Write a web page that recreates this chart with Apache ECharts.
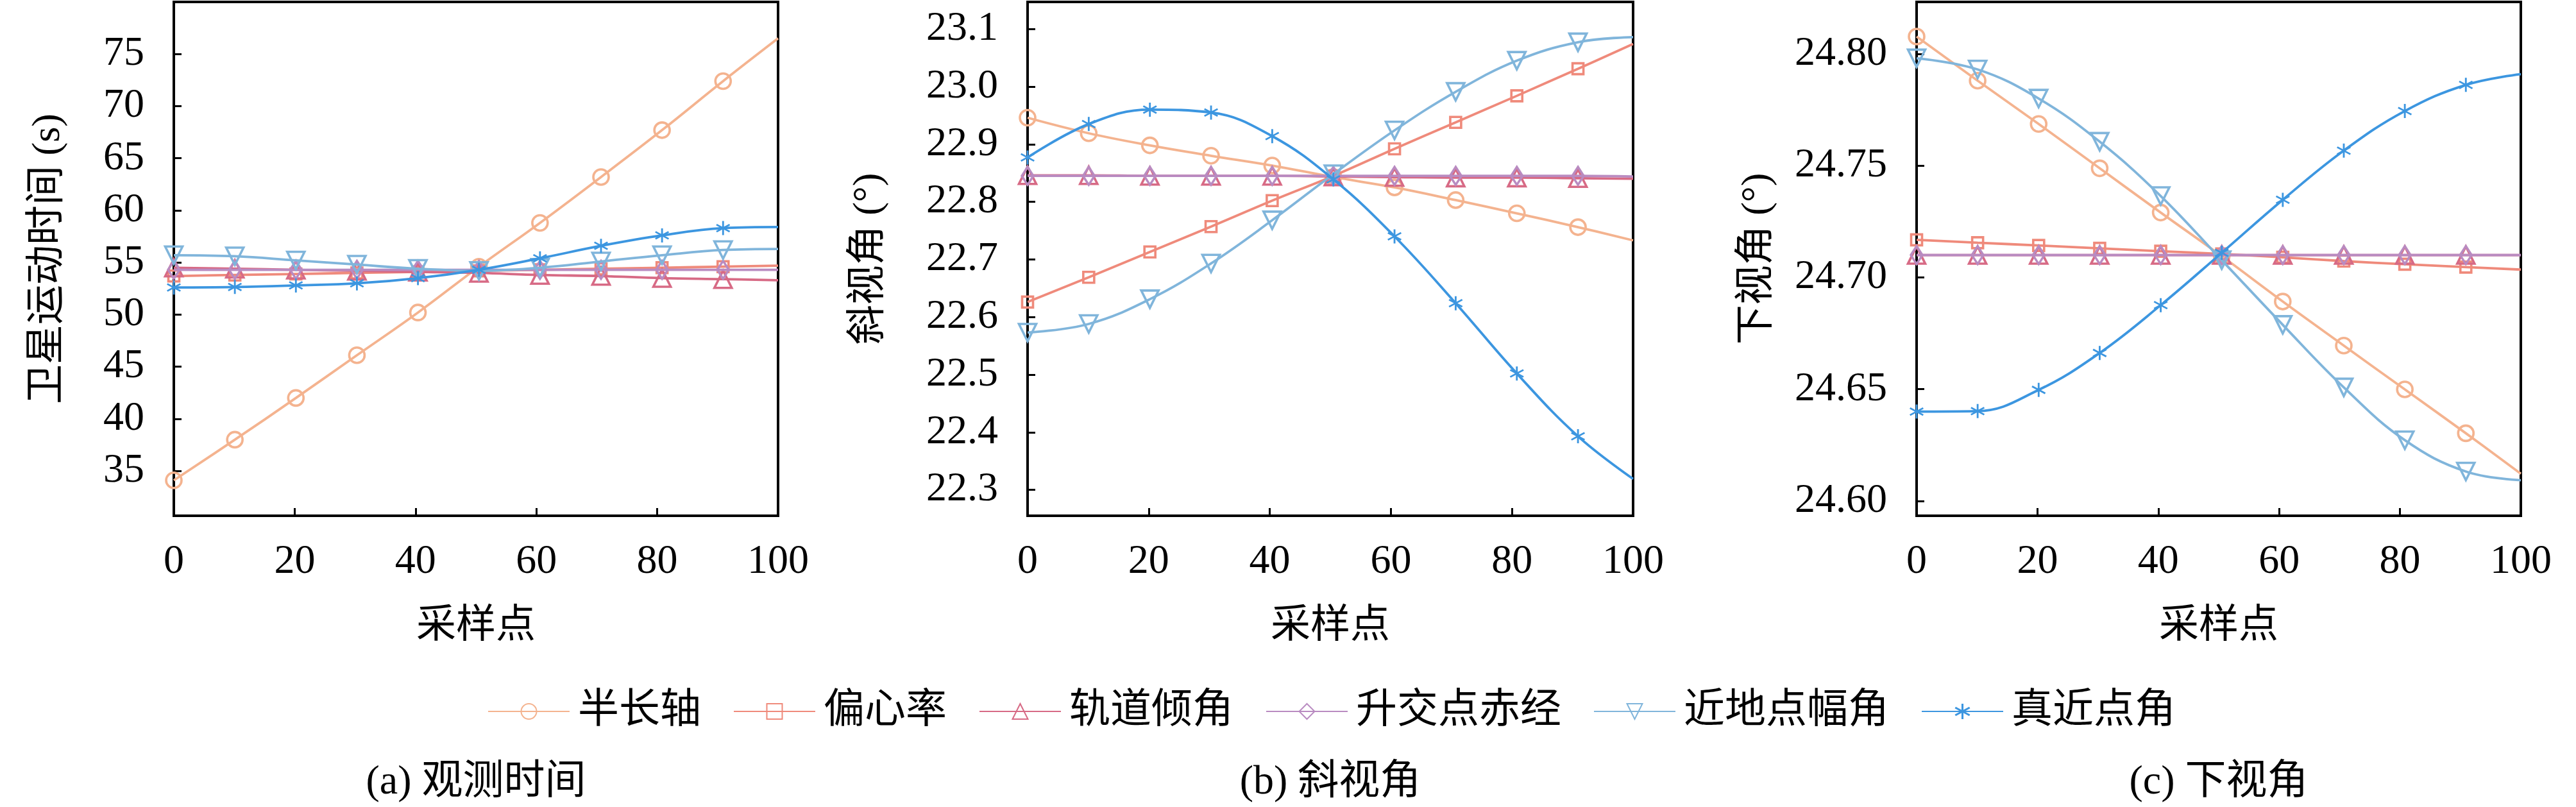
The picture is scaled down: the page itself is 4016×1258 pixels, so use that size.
<!DOCTYPE html>
<html lang="zh">
<head>
<meta charset="UTF-8">
<title>卫星轨道根数影响</title>
<style>
  html, body { margin: 0; padding: 0; background: #fff; }
  #container { width: 4016px; height: 1258px; }
</style>
</head>
<body>
<div id="container"></div>
<script src="https://cdn.jsdelivr.net/npm/echarts@6/dist/echarts.min.js"></script>
<script>
// 采样点横坐标（最后一点无标记）
var sampleX = [0, 10.1, 20.2, 30.3, 40.4, 50.5, 60.6, 70.7, 80.8, 90.9, 100];
var seriesNames = ['半长轴', '偏心率', '轨道倾角', '升交点赤经', '近地点幅角', '真近点角'];

// (a) 观测时间
var timeSemiMajor = [34.1, 38.0, 42.0, 46.1, 50.2, 54.6, 58.8, 63.2, 67.7, 72.4, 76.5];
var timeEcc       = [53.7, 53.8, 53.9, 54.0, 54.1, 54.2, 54.3, 54.4, 54.5, 54.6, 54.7];
var timeIncl      = [54.5, 54.4, 54.3, 54.2, 54.1, 54.0, 53.8, 53.7, 53.5, 53.4, 53.3];
var timeRaan      = [54.3, 54.3, 54.3, 54.3, 54.3, 54.3, 54.3, 54.3, 54.3, 54.3, 54.3];
var timeArgp      = [55.7, 55.6, 55.2, 54.8, 54.4, 54.2, 54.5, 55.1, 55.7, 56.2, 56.3];
var timeTrue      = [52.6, 52.65, 52.8, 53.0, 53.5, 54.3, 55.4, 56.6, 57.6, 58.3, 58.4];

// (b) 斜视角
var squintSemiMajor = [22.946, 22.919, 22.898, 22.880, 22.863, 22.843, 22.825, 22.803, 22.780, 22.756, 22.733];
var squintEcc       = [22.626, 22.669, 22.713, 22.757, 22.802, 22.845, 22.892, 22.938, 22.984, 23.031, 23.074];
var squintIncl      = [22.846, 22.846, 22.845, 22.845, 22.845, 22.844, 22.843, 22.842, 22.842, 22.841, 22.840];
var squintRaan      = [22.845, 22.845, 22.845, 22.845, 22.845, 22.845, 22.845, 22.845, 22.845, 22.845, 22.844];
var squintArgp      = [22.573, 22.588, 22.631, 22.693, 22.768, 22.848, 22.924, 22.991, 23.045, 23.077, 23.086];
var squintTrue      = [22.877, 22.935, 22.960, 22.955, 22.914, 22.839, 22.740, 22.624, 22.502, 22.393, 22.319];

// (c) 下视角
var downSemiMajor = [24.8077, 24.7880, 24.7686, 24.7488, 24.7290, 24.7095, 24.6892, 24.6695, 24.6499, 24.6303, 24.6122];
var downEcc       = [24.7168, 24.7155, 24.7143, 24.7130, 24.7117, 24.7105, 24.7090, 24.7073, 24.7059, 24.7046, 24.7035];
var downIncl      = [24.7100, 24.7100, 24.7100, 24.7100, 24.7100, 24.7100, 24.7100, 24.7100, 24.7100, 24.7100, 24.7100];
var downRaan      = [24.7100, 24.7100, 24.7100, 24.7100, 24.7100, 24.7100, 24.7100, 24.7100, 24.7100, 24.7100, 24.7100];
var downArgp      = [24.7980, 24.7930, 24.7800, 24.7607, 24.7364, 24.7077, 24.6788, 24.6508, 24.6272, 24.6132, 24.6093];
var downTrue      = [24.6400, 24.6402, 24.6497, 24.6662, 24.6876, 24.7110, 24.7347, 24.7567, 24.7744, 24.7861, 24.7909];

// 刻度
var xTicks = [0, 20, 40, 60, 80, 100];
var yTicksA = [35, 40, 45, 50, 55, 60, 65, 70, 75];
var yTicksB = [22.3, 22.4, 22.5, 22.6, 22.7, 22.8, 22.9, 23.0, 23.1];
var yTicksC = [24.60, 24.65, 24.70, 24.75, 24.80];

var panelData = [
  [timeSemiMajor, timeEcc, timeIncl, timeRaan, timeArgp, timeTrue],
  [squintSemiMajor, squintEcc, squintIncl, squintRaan, squintArgp, squintTrue],
  [downSemiMajor, downEcc, downIncl, downRaan, downArgp, downTrue]
];

var colors = ['#F4B38F', '#EF8A7B', '#D76A85', '#B98BC1', '#80B5DB', '#3C96E0'];
// 六角星号标记
var asterisk = 'path://M8.8 0L11.2 0L11.2 20L8.8 20Z M0.74 6.04L1.94 3.96L19.26 13.96L18.06 16.04Z M0.74 13.96L18.06 3.96L19.26 6.04L1.94 16.04Z';
var symbols = ['circle', 'rect', 'triangle', 'diamond', 'triangle', asterisk];
var symbolSizes = [24, 17, 27, [18, 28], 27, 22];
var symbolRotates = [0, 0, 0, 0, 180, 0];

var FONT = "'Liberation Serif', 'Noto Sans CJK SC', serif";

var grids = [
  { left: 271, top: 3, width: 942, height: 801 },
  { left: 1602, top: 3, width: 944, height: 801 },
  { left: 2988, top: 3, width: 942, height: 801 }
];
var yRanges = [[30.7, 80], [22.255, 23.147], [24.5934, 24.8232]];
var yTickLists = [yTicksA, yTicksB, yTicksC];
var yDigits = [0, 1, 2];
var yNames = ['卫星运动时间 (s)', '斜视角 (°)', '下视角 (°)'];
var yNameGaps = [164, 215, 216];
var captions = ['(a) 观测时间', '(b) 斜视角', '(c) 下视角'];

function toPoints(values) {
  return values.map(function (v, i) {
    if (i === values.length - 1) {
      return { value: [sampleX[i], v], symbol: 'none' };
    }
    return [sampleX[i], v];
  });
}

var chart = echarts.init(document.getElementById('container'));

var gridOpts = [], xAxes = [], yAxes = [], series = [], graphics = [];
grids.forEach(function (g, k) {
  gridOpts.push({
    left: g.left, top: g.top, width: g.width, height: g.height,
    show: true, borderColor: '#000', borderWidth: 4, backgroundColor: 'transparent'
  });
  xAxes.push({
    type: 'value', gridIndex: k, min: 0, max: 100,
    axisLine: { show: false },
    axisTick: { inside: true, length: 12, lineStyle: { color: '#000', width: 3 }, customValues: xTicks },
    axisLabel: { color: '#000', fontSize: 64, fontFamily: FONT, margin: 40, customValues: xTicks },
    splitLine: { show: false },
    name: '采样点', nameLocation: 'middle', nameGap: 143,
    nameTextStyle: { color: '#000', fontSize: 62, fontFamily: FONT }
  });
  yAxes.push({
    type: 'value', gridIndex: k, min: yRanges[k][0], max: yRanges[k][1],
    axisLine: { show: false },
    axisTick: { inside: true, length: 12, lineStyle: { color: '#000', width: 3 }, customValues: yTickLists[k] },
    axisLabel: {
      color: '#000', fontSize: 64, fontFamily: FONT, margin: 46, customValues: yTickLists[k],
      formatter: (function (d) { return function (v) { return v.toFixed(d); }; })(yDigits[k])
    },
    splitLine: { show: false },
    name: yNames[k], nameLocation: 'middle', nameGap: yNameGaps[k], nameRotate: 90,
    nameTextStyle: { color: '#000', fontSize: 62, fontFamily: FONT }
  });
  panelData[k].forEach(function (vals, s) {
    var hollow = s !== 5;
    series.push({
      name: seriesNames[s], type: 'line', xAxisIndex: k, yAxisIndex: k,
      data: toPoints(vals), smooth: 0.4,
      symbol: symbols[s], symbolSize: symbolSizes[s], symbolRotate: symbolRotates[s],
      showAllSymbol: true,
      lineStyle: { color: colors[s], width: 3.8 },
      itemStyle: hollow
        ? { color: 'rgba(255,255,255,0)', borderColor: colors[s], borderWidth: 3.6 }
        : { color: colors[s] },
      emphasis: { disabled: true },
      z: 2 + s
    });
  });
  graphics.push({
    type: 'text', x: g.left + g.width / 2, y: 1220,
    style: {
      text: captions[k], fill: '#000', font: '64px ' + FONT,
      textAlign: 'center', textVerticalAlign: 'middle'
    }
  });
});

chart.setOption({
  backgroundColor: '#fff',
  animation: false,
  grid: gridOpts,
  xAxis: xAxes,
  yAxis: yAxes,
  series: series,
  legend: {
    data: seriesNames,
    left: 755, top: 1072,
    itemWidth: 127, itemHeight: 30, itemGap: 50,
    textStyle: { color: '#000', fontSize: 64, fontFamily: FONT, lineHeight: 64, padding: [0, 0, 0, 8] }
  },
  graphic: graphics
});
</script>
</body>
</html>
